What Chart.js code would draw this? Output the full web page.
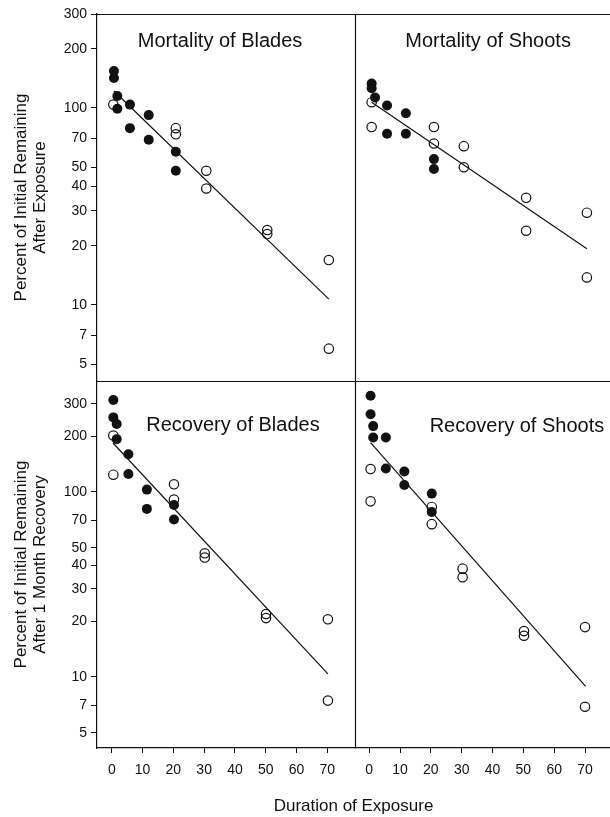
<!DOCTYPE html>
<html><head><meta charset="utf-8">
<script src="https://cdn.jsdelivr.net/npm/chart.js@4.4.1/dist/chart.umd.min.js"></script>
<style>html,body{margin:0;padding:0;background:#fff;}canvas{display:block;}</style>
</head><body>
<canvas id="c" width="610" height="817"></canvas>
<script>
// ---- data ----
const xTicks = [0, 10, 20, 30, 40, 50, 60, 70];
const yTicksMortality = [5, 7, 10, 20, 30, 40, 50, 70, 100, 200, 300];
const yTicksRecovery = [5, 7, 10, 20, 30, 40, 50, 70, 100, 200, 300];
const panelTitles = ["Mortality of Blades", "Mortality of Shoots", "Recovery of Blades", "Recovery of Shoots"];
const yTitleMortality = ["Percent of Initial Remaining", "After Exposure"];
const yTitleRecovery = ["Percent of Initial Remaining", "After 1 Month Recovery"];
const xTitle = "Duration of Exposure";

const mortBladesFilled = [[0.7,154],[0.7,142],[1.8,115],[1.8,99],[5.9,104],[5.9,79],[12,92],[12,69],[20.8,60],[20.8,48]];
const mortBladesOpen = [[0.5,104],[20.8,79],[20.8,73.5],[30.7,48],[30.7,39],[50.5,24],[50.5,22.9],[70.5,16.9],[70.5,6.0]];
const mortBladesFit = [[0.7,122],[70.5,10.7]];

const mortShootsFilled = [[0.8,133],[0.8,126],[1.9,113],[5.8,103],[5.8,74],[11.9,94],[11.9,74],[21,55],[21,49]];
const mortShootsOpen = [[0.8,107],[0.8,80],[21,80],[21,66],[30.7,64],[30.7,50],[50.9,35],[50.9,23.8],[70.6,29.4],[70.6,13.8]];
const mortShootsFit = [[0.8,107],[70.6,19.3]];

const recBladesFilled = [[0.5,314],[0.5,253],[1.6,233],[1.6,193],[5.4,160],[5.4,125],[11.4,103],[11.4,81],[20.2,85],[20.2,71]];
const recBladesOpen = [[0.5,202],[0.5,124],[20.2,110],[20.2,91],[30.2,46.6],[30.2,44.2],[50.1,21.9],[50.1,20.8],[70.2,20.5],[70.2,7.45]];
const recBladesFit = [[0.4,184],[70.2,10.4]];

const recShootsFilled = [[0.45,331],[0.45,263],[1.3,227],[1.3,197],[5.4,197],[5.4,134],[11.4,129],[11.4,109],[20.3,98],[20.3,78]];
const recShootsOpen = [[0.45,133],[0.45,89],[20.3,83],[20.3,67],[30.3,38.5],[30.3,34.6],[50.2,17.7],[50.2,16.7],[70,18.6],[70,6.9]];
const recShootsFit = [[0.45,185],[70.2,8.9]];

// ---- styles ----
const FONT = "'Liberation Sans', Arial, Helvetica, sans-serif";
const INK = '#111';
const pts = arr => arr.map(([x, y]) => ({x, y}));
const filledStyle = {showLine: false, pointRadius: 5, pointBackgroundColor: INK, pointBorderColor: INK, pointBorderWidth: 0, pointHoverRadius: 5};
const openStyle = {showLine: false, pointRadius: 4.7, pointBackgroundColor: 'rgba(0,0,0,0)', pointBorderColor: INK, pointBorderWidth: 1.2, pointHoverRadius: 4.7};
const fitStyle = {showLine: true, borderColor: INK, borderWidth: 1.2, pointRadius: 0, fill: false, tension: 0};

function panel(xId, yId, filled, open, fit) {
  return [
    Object.assign({data: pts(fit), xAxisID: xId, yAxisID: yId}, fitStyle),
    Object.assign({data: pts(filled), xAxisID: xId, yAxisID: yId}, filledStyle),
    Object.assign({data: pts(open), xAxisID: xId, yAxisID: yId}, openStyle)
  ];
}

const datasets = [].concat(
  panel('xL', 'yT', mortBladesFilled, mortBladesOpen, mortBladesFit),
  panel('xR', 'yT', mortShootsFilled, mortShootsOpen, mortShootsFit),
  panel('xL', 'yB', recBladesFilled, recBladesOpen, recBladesFit),
  panel('xR', 'yB', recShootsFilled, recShootsOpen, recShootsFit)
);

const tickFont = {family: FONT, size: 14};
const axisGrid = {display: true, drawOnChartArea: false, drawTicks: true, color: INK, tickColor: INK, tickWidth: 1};
const axisBorder = {display: true, color: INK, width: 1.2};

function yScale(tickArr, min, max, title) {
  return {
    type: 'logarithmic', position: 'left', stack: 'y', stackWeight: 1,
    min: min, max: max, bounds: 'data', offset: false,
    afterBuildTicks: s => { s.ticks = tickArr.map(v => ({value: v})); },
    afterFit: s => { s.width = 97; s.paddingTop = 0; s.paddingBottom = 0; s.paddingLeft = 0; s.paddingRight = 0; },
    ticks: {font: tickFont, color: INK, padding: 4, autoSkip: false, callback: v => String(v)},
    grid: Object.assign({tickLength: 6}, axisGrid),
    border: axisBorder,
    title: {display: true, text: title, color: INK, font: {family: FONT, size: 17, lineHeight: 1.12}, padding: {top: 12, bottom: 0}}
  };
}
function xScale(min, max, weight) {
  return {
    type: 'linear', position: 'bottom', stack: 'x', stackWeight: weight,
    min: min, max: max, bounds: 'data', offset: false,
    afterBuildTicks: s => { s.ticks = xTicks.map(v => ({value: v})); },
    afterFit: s => { s.height = 69; s.paddingTop = 0; s.paddingBottom = 0; s.paddingLeft = 0; s.paddingRight = 0; },
    ticks: {font: tickFont, color: INK, padding: 9, autoSkip: false, maxRotation: 0, callback: v => String(v)},
    grid: Object.assign({tickLength: 5}, axisGrid),
    border: axisBorder
  };
}

// panel title anchors as fractions of each panel
const titleSpots = [
  {x: 'xL', y: 'yT', fx: 0.477, fy: 0.074},
  {x: 'xR', y: 'yT', fx: 0.522, fy: 0.076},
  {x: 'xL', y: 'yB', fx: 0.527, fy: 0.120},
  {x: 'xR', y: 'yB', fx: 0.635, fy: 0.125}
];

const framePlugin = {
  id: 'frame',
  afterDatasetsDraw(chart) {
    const {ctx, chartArea, scales} = chart;
    const r = v => Math.round(v) + 0.5;
    ctx.save();
    ctx.strokeStyle = INK;
    ctx.lineWidth = 1.2;
    ctx.beginPath();
    ctx.moveTo(chartArea.left, r(scales.yT.top)); ctx.lineTo(chartArea.right, r(scales.yT.top));
    ctx.moveTo(chartArea.left, r(scales.yT.bottom)); ctx.lineTo(chartArea.right, r(scales.yT.bottom));
    ctx.moveTo(r(scales.xL.right), chartArea.top); ctx.lineTo(r(scales.xL.right), chartArea.bottom);
    ctx.stroke();

    ctx.fillStyle = INK;
    ctx.textAlign = 'center';
    ctx.textBaseline = 'middle';
    ctx.font = '20px ' + FONT;
    titleSpots.forEach((t, i) => {
      const xs = scales[t.x], ys = scales[t.y];
      ctx.fillText(panelTitles[i], xs.left + t.fx * (xs.right - xs.left), ys.top + t.fy * (ys.bottom - ys.top));
    });
    ctx.font = '17px ' + FONT;
    ctx.fillText(xTitle, (chartArea.left + chartArea.right) / 2, chartArea.bottom + 58);
    ctx.restore();
  }
};

new Chart(document.getElementById('c'), {
  type: 'scatter',
  data: {datasets: datasets},
  options: {
    responsive: false, animation: false, devicePixelRatio: 1,
    layout: {autoPadding: false, padding: {top: 14, left: 0, right: 0, bottom: 0}},
    plugins: {legend: {display: false}, tooltip: {enabled: false}, title: {display: false}},
    scales: {
      yB: yScale(yTicksRecovery, 4.13, 398, yTitleRecovery),
      yT: yScale(yTicksMortality, 4.11, 300, yTitleMortality),
      xL: xScale(-4.8, 79.0, 258),
      xR: xScale(-4.6, 78.1, 255)
    }
  },
  plugins: [framePlugin]
});
</script>
</body></html>
